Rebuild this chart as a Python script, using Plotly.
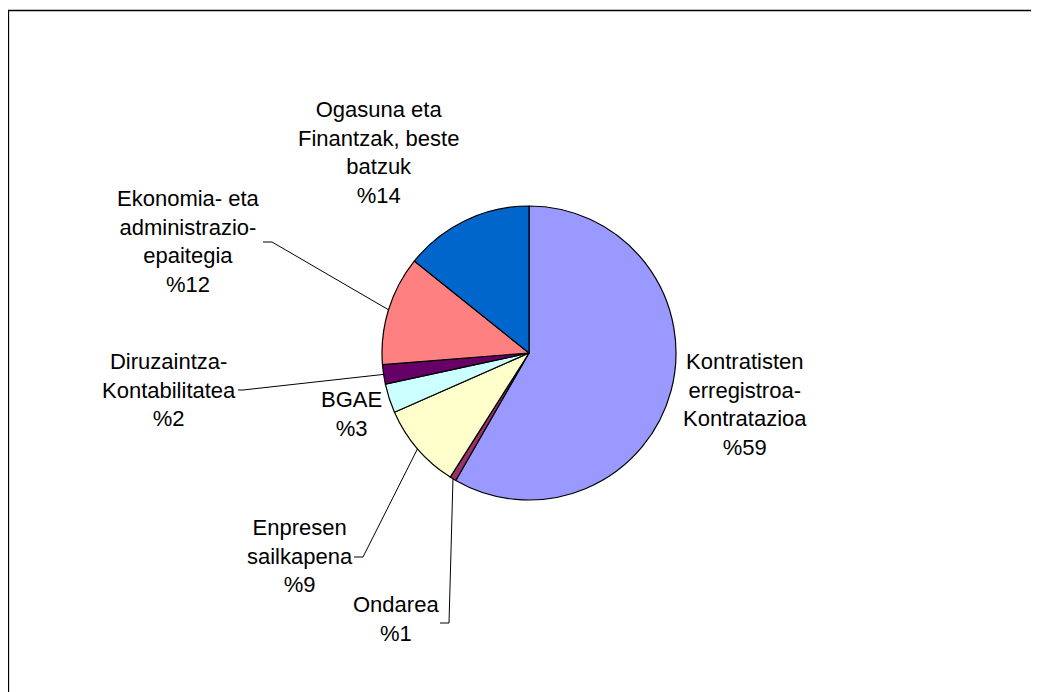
import math
import plotly.graph_objects as go

# ---- data ----
categories = [
    "Kontratisten erregistroa-Kontratazioa",
    "Ondarea",
    "Enpresen sailkapena",
    "BGAE",
    "Diruzaintza-Kontabilitatea",
    "Ekonomia- eta administrazio-epaitegia",
    "Ogasuna eta Finantzak, beste batzuk",
]
values = [58.3, 0.7, 9.4, 3.2, 2.15, 12.0, 14.25]
pct_labels = ["%59", "%1", "%9", "%3", "%2", "%12", "%14"]
label_lines = [
    ["Kontratisten", "erregistroa-", "Kontratazioa"],
    ["Ondarea"],
    ["Enpresen", "sailkapena"],
    ["BGAE"],
    ["Diruzaintza-", "Kontabilitatea"],
    ["Ekonomia- eta", "administrazio-", "epaitegia"],
    ["Ogasuna eta", "Finantzak, beste", "batzuk"],
]

# ---- styles / layout ----
colors = ["#9999FF", "#993366", "#FFFFCC", "#CCFFFF", "#660066", "#FF8080", "#0066CC"]
OFF = 8  # page body margin
W, H = 1039 - OFF, 692 - OFF
CX, CY, R = 529, 353, 147
FONT = "Liberation Sans, Arial, sans-serif"
FS = 22
# label block centres (screen pixels)
label_pos = [(745, 405), (396, 619), (300, 556), (351, 414), (169, 390), (188, 242), (378, 152)]
# leader-line start and elbow (screen pixels); None = no leader
leader_pts = [None, ((440, 623), (449, 623)), ((354, 557), (363, 557)), None,
              ((238, 390), (243, 390)), ((263, 242), (272, 242)), None]


def px(x):
    return (x - OFF) / W


def py(y):
    return 1 - (y - OFF) / H


fig = go.Figure(go.Pie(
    labels=categories,
    values=values,
    sort=False,
    direction="clockwise",
    rotation=0,
    textinfo="none",
    hoverinfo="skip",
    showlegend=False,
    marker=dict(colors=colors, line=dict(color="black", width=1.2)),
    domain=dict(x=[px(CX - R), px(CX + R)], y=[py(CY + R), py(CY - R)]),
))

annotations = []
shapes = []
total = sum(values)
cum = 0.0
for i, v in enumerate(values):
    mid = (cum + v / 2) / total
    cum += v
    th = 2 * math.pi * mid
    ex, ey = CX + R * math.sin(th), CY - R * math.cos(th)
    lx, ly = label_pos[i]
    annotations.append(dict(
        x=px(lx), y=py(ly), xref="paper", yref="paper",
        text="<br>".join(label_lines[i] + [pct_labels[i]]),
        showarrow=False, xanchor="center", yanchor="middle", align="center",
        font=dict(family=FONT, size=FS, color="black"),
    ))
    if leader_pts[i] is not None:
        (sx, sy), (bx, by) = leader_pts[i]
        shapes.append(dict(
            type="path", xref="paper", yref="paper",
            path=f"M {px(sx)} {py(sy)} L {px(bx)} {py(by)} L {px(ex)} {py(ey)}",
            line=dict(color="black", width=1),
        ))

# outer frame (only left & top edges are visible)
shapes.append(dict(type="rect", xref="paper", yref="paper",
                   x0=px(8.5), y0=py(760), x1=px(1100), y1=py(10.5),
                   line=dict(color="black", width=1.3), layer="below"))

fig.update_layout(
    width=W, height=H,
    margin=dict(l=0, r=0, t=0, b=0),
    paper_bgcolor="white", plot_bgcolor="white",
    annotations=annotations, shapes=shapes,
)
fig.write_html("out.html")
